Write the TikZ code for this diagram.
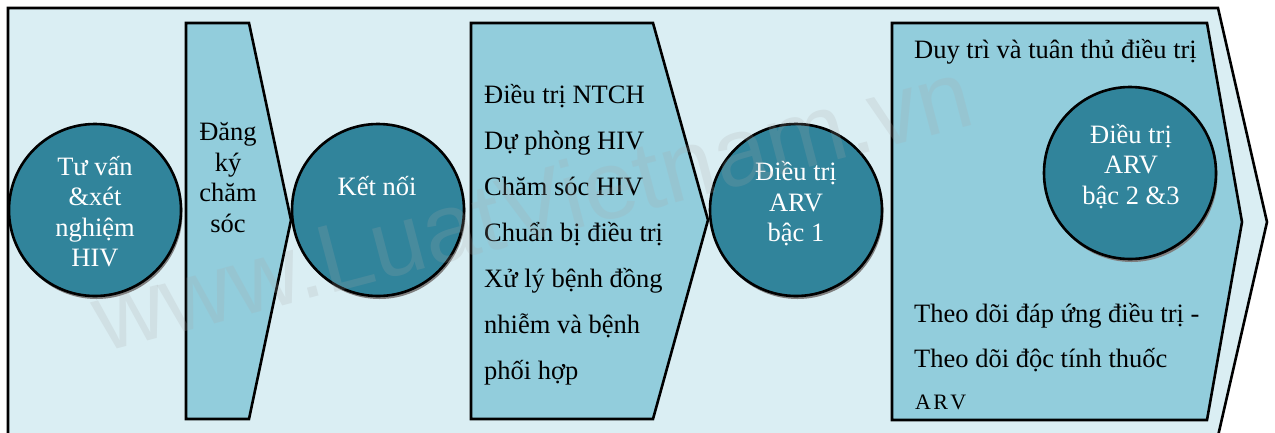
\documentclass[tikz,border=0pt]{standalone}
\usepackage{fontspec}
\setmainfont{Liberation Serif}
\newfontfamily\wmfont{Liberation Sans}
\usetikzlibrary{shadows}

\definecolor{bgblue}{HTML}{DAEEF3}
\definecolor{chevblue}{HTML}{92CDDC}
\definecolor{circteal}{HTML}{31849B}
\definecolor{shadegray}{HTML}{7F7F7F}
\definecolor{wmgray}{HTML}{A8A8A8}

\tikzset{
  outline/.style={draw=black, line width=2.6pt, line join=miter},
  panel/.style={outline, fill=bgblue},
  chevron/.style={outline, fill=chevblue},
  stage/.style={circle, outline, fill=circteal, minimum size=172pt, inner sep=0pt,
    drop shadow={shadow xshift=1.5pt, shadow yshift=-3pt, fill=shadegray, opacity=1}},
  whiteline/.style={text=white, anchor=base, inner sep=0pt,
    font=\fontsize{26.5}{30}\selectfont},
  darkline/.style={text=black, anchor=base west, inner sep=0pt,
    font=\fontsize{26.5}{30}\selectfont},
  wmark/.style={text=wmgray, text opacity=0.2, anchor=base west, inner sep=0pt,
    font=\wmfont\fontsize{97}{100}\selectfont}
}

\begin{document}
\begin{tikzpicture}[x=1pt, y=-1pt]
  \useasboundingbox (0,0) rectangle (1275,432);
  \fill[white] (0,0) rectangle (1275,432);
  \clip (0,0) rectangle (1275,432);

  % outer process arrow
  \path[panel] (8,8) -- (1218,8) -- (1267,222) -- (1218,436) -- (8,436) -- cycle;

  % inner chevrons
  \path[chevron] (186,23) -- (249,23) -- (291,220) -- (249,419) -- (186,419) -- cycle;
  \path[chevron] (471,23) -- (653,23) -- (708,220) -- (653,419) -- (471,419) -- cycle;
  \path[chevron] (892,23) -- (1207,23) -- (1242,222) -- (1207,420) -- (892,420) -- cycle;

  % circular stages
  \node[stage] (s1) at (95,210) {};
  \node[stage] (s2) at (378,210) {};
  \node[stage] (s3) at (796,210) {};
  \node[stage] (s4) at (1130,173) {};

  % stage labels
  \foreach \t [count=\i] in {Tư vấn, \&xét, nghiệm, HIV}
    \node[whiteline] (s1l\i) at (95,{175+30.5*(\i-1)}) {\t};
  \node[whiteline] (s2l1) at (377,195) {Kết nối};
  \foreach \t [count=\i] in {Điều trị, ARV, bậc 1}
    \node[whiteline] (s3l\i) at (796,{180.5+30.5*(\i-1)}) {\t};
  \foreach \t [count=\i] in {Điều trị, ARV, bậc 2 \&3}
    \node[whiteline] (s4l\i) at (1131,{143+30.5*(\i-1)}) {\t};

  % chevron labels
  \foreach \t [count=\i] in {Đăng, ký, chăm, sóc}
    \node[whiteline, text=black] (r1l\i) at (228,{140.5+30.6*(\i-1)}) {\t};
  \foreach \t [count=\i] in {Điều trị NTCH, Dự phòng HIV, Chăm sóc HIV,
      Chuẩn bị điều trị, Xử lý bệnh đồng, nhiễm và bệnh, phối hợp}
    \node[darkline] (r2l\i) at (484,{103+46.1*(\i-1)}) {\t};
  \node[darkline] (r3l1) at (914,58) {Duy trì và tuân thủ điều trị};
  \node[darkline] (r3l2) at (914,322) {Theo dõi đáp ứng điều trị -};
  \node[darkline] (r3l3) at (914,367) {Theo dõi độc tính thuốc};
  \node[darkline, font=\fontsize{22}{26}\selectfont] (r3l4) at (915,409)
    {A\kern2.3pt R\kern2.3pt V};

  % site mark
  \node[wmark, rotate=14.7] (wm) at (103,353) {www.LuatVietnam.vn};
\end{tikzpicture}
\end{document}
